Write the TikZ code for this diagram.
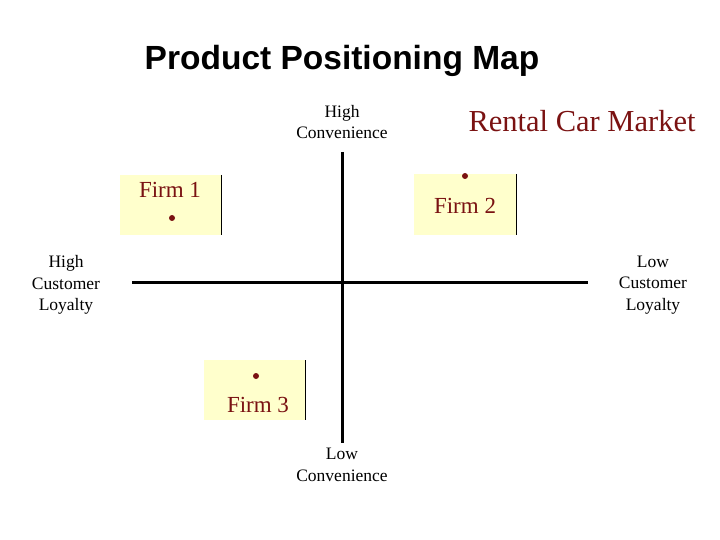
\documentclass[tikz,border=0pt]{standalone}
\usepackage{fontspec}
\setmainfont{Liberation Serif}
\newfontfamily\arialf{Liberation Sans}
\definecolor{dred}{HTML}{7A1212}
\definecolor{boxfill}{HTML}{FFFFCC}
\begin{document}
\begin{tikzpicture}[x=1pt,y=-1pt,
  lbl/.style={font=\fontsize{17.5}{21.5}\selectfont, align=center, text=black},
  firm/.style={font=\fontsize{23}{26}\selectfont, text=dred},
  dot/.style={circle, fill=dred, inner sep=0pt, minimum size=6pt},
  axis/.style={line width=3pt}]
\useasboundingbox (0,0) rectangle (720,540);
\node[font=\arialf\bfseries\fontsize{33.5}{38}\selectfont] (title) at (342,61) {Product Positioning Map};
\node[font=\fontsize{30.5}{34}\selectfont, text=dred] (mkt) at (582,121) {Rental Car Market};
\fill[boxfill] (120,175) rectangle (221,235);
\draw[line width=1pt] (221,175) -- (221,235);
\fill[boxfill] (414,174) rectangle (516,235);
\draw[line width=1pt] (516,174) -- (516,235);
\fill[boxfill] (204,360) rectangle (305,420);
\draw[line width=1pt] (305,360) -- (305,420);
\coordinate (l) at (132,282); \coordinate (r) at (588,282);
\coordinate (t) at (342,152); \coordinate (b) at (342,443);
\draw[axis] (l) -- (r);
\draw[axis] (t) -- (b);
\node[lbl] (hc) at (342,122) {High\\Convenience};
\node[lbl] (lc) at (342,465) {Low\\Convenience};
\node[lbl] (hl) at (66,285) {High\\Customer\\Loyalty};
\node[lbl] (ll) at (653,285) {Low\\Customer\\Loyalty};
\node[firm] (f1) at (170,190) {Firm 1};
\node[dot] (d1) at (172,218) {};
\node[firm] (f2) at (465,206) {Firm 2};
\node[dot] (d2) at (465,176) {};
\node[firm] (f3) at (258,405) {Firm 3};
\node[dot] (d3) at (256,376) {};
\end{tikzpicture}
\end{document}
